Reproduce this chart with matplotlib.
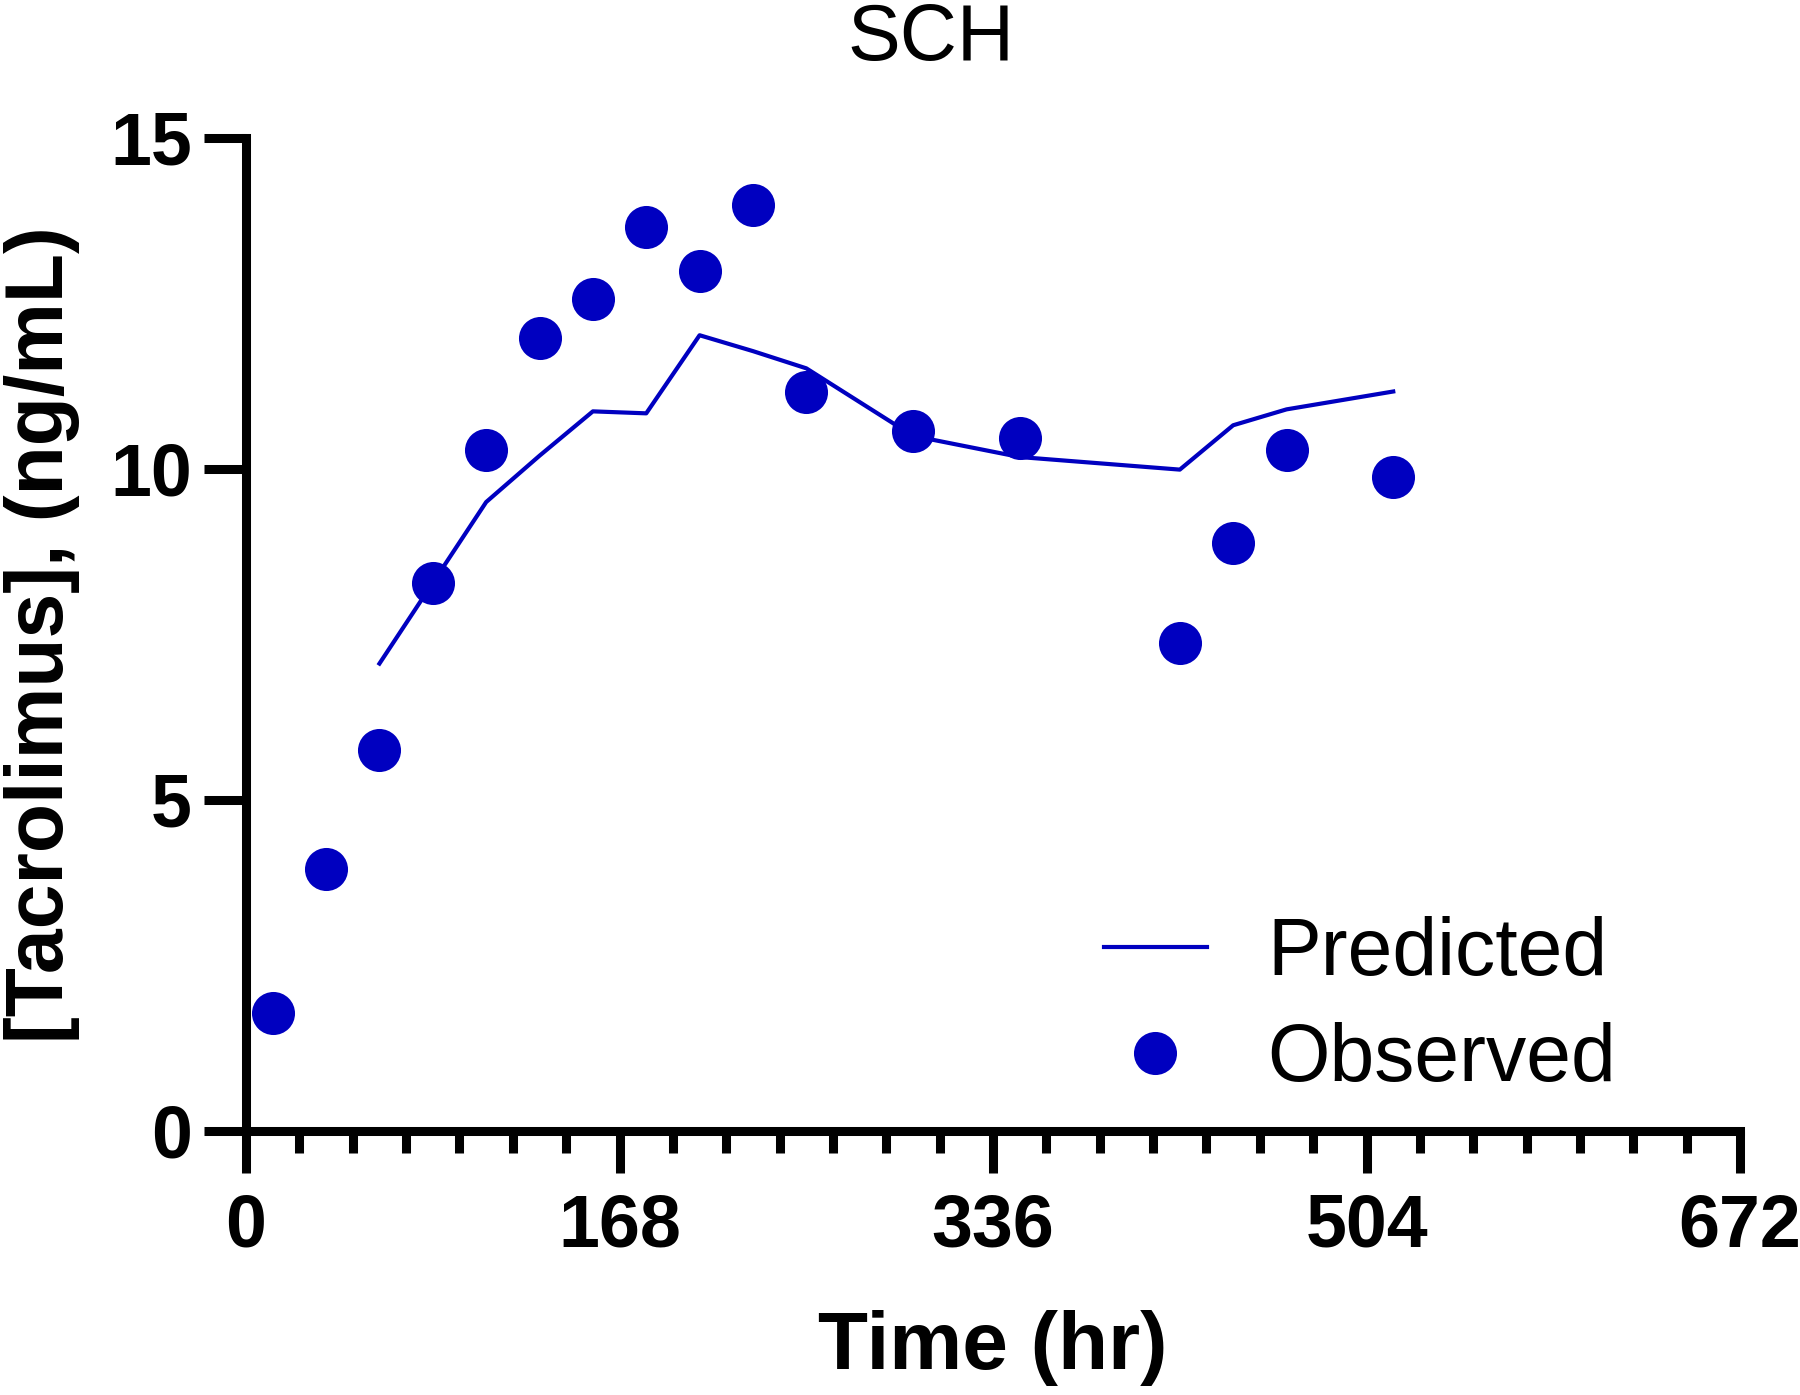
import matplotlib.pyplot as plt
from matplotlib.ticker import MultipleLocator

# observed concentrations
obs_time = [12, 36, 60, 84, 108, 132, 156, 180, 204, 228, 252, 300, 348, 420, 444, 468, 516]
obs_conc = [1.78, 3.95, 5.76, 8.27, 10.28, 11.98, 12.57, 13.66, 12.99, 13.98, 11.17, 10.58, 10.47, 7.37, 8.88, 10.28, 9.88]

# model prediction
pred_time = [60, 108, 132, 156, 180, 204, 228, 252, 300, 348, 420, 444, 468, 516]
pred_conc = [7.06, 9.5, 10.2, 10.87, 10.84, 12.02, 11.78, 11.52, 10.5, 10.18, 9.99, 10.66, 10.9, 11.17]

x_ticks = [0, 168, 336, 504, 672]
y_ticks = [0, 5, 10, 15]

blue = "#0000c0"
plt.rcParams["font.family"] = ["Liberation Sans", "DejaVu Sans"]

fig = plt.figure(figsize=(18, 13.95), dpi=100)
ax = fig.add_axes([0.1367, 0.1893, 0.83, 0.7118])

ax.plot(pred_time, pred_conc, color=blue, lw=3, label="Predicted")
ax.plot(obs_time, obs_conc, "o", color=blue, ms=31, mec="none", label="Observed")

ax.set_xlim(0, 672)
ax.set_ylim(0, 15)
ax.set_xticks(x_ticks)
ax.set_yticks(y_ticks)
ax.xaxis.set_minor_locator(MultipleLocator(24))

for side in ["top", "right"]:
    ax.spines[side].set_visible(False)
for side in ["left", "bottom"]:
    ax.spines[side].set_linewidth(6.5)

ax.tick_params(axis="both", which="major", length=30, width=6.5)
ax.tick_params(axis="x", which="major", pad=14)
ax.tick_params(axis="y", which="major", pad=9)
ax.tick_params(axis="x", which="minor", length=16, width=6.5)
for lab in ax.get_xticklabels() + ax.get_yticklabels():
    lab.set_fontsize(53)
    lab.set_fontweight("bold")

ax.set_xlabel("Time (hr)", fontsize=59, fontweight="bold", labelpad=35)
fig.text(4 / 1800, 0.545, "[Tacrolimus], (ng/mL)", fontsize=58, fontweight="bold",
         rotation=90, ha="left", va="center")
fig.text(0.517, 0.957, "SCH", fontsize=57, ha="center", va="baseline")

ax.legend(loc="upper left", bbox_to_anchor=(0.574, 0.216), frameon=False,
          fontsize=58, handlelength=1.28, handletextpad=0.75, borderpad=0,
          borderaxespad=0, labelspacing=0.37)

fig.savefig("out.png", dpi=100)
